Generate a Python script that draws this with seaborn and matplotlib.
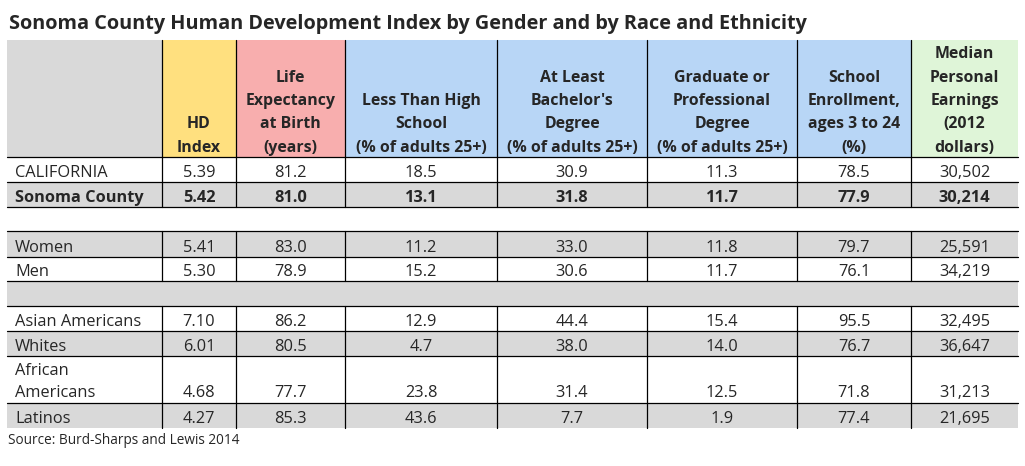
import matplotlib
matplotlib.use("Agg")
import matplotlib.pyplot as plt
import seaborn as sns
from matplotlib.patches import Rectangle

# data
title = "Sonoma County Human Development Index by Gender and by Race and Ethnicity"
source = "Source: Burd-Sharps and Lewis 2014"

headers = ["", "HD\nIndex", "Life\nExpectancy\nat Birth\n(years)",
           "Less Than High\nSchool\n(% of adults 25+)",
           "At Least\nBachelor's\nDegree\n(% of adults 25+)",
           "Graduate or\nProfessional\nDegree\n(% of adults 25+)",
           "School\nEnrollment,\nages 3 to 24\n(%)",
           "Median\nPersonal\nEarnings\n(2012\ndollars)"]

row_labels = ["CALIFORNIA", "Sonoma County", "Women", "Men",
              "Asian Americans", "Whites", "African\nAmericans", "Latinos"]
hd_index = [5.39, 5.42, 5.41, 5.30, 7.10, 6.01, 4.68, 4.27]
life_exp = [81.2, 81.0, 83.0, 78.9, 86.2, 80.5, 77.7, 85.3]
less_hs = [18.5, 13.1, 11.2, 15.2, 12.9, 4.7, 23.8, 43.6]
bachelor = [30.9, 31.8, 33.0, 30.6, 44.4, 38.0, 31.4, 7.7]
graduate = [11.3, 11.7, 11.8, 11.7, 15.4, 14.0, 12.5, 1.9]
enrollment = [78.5, 77.9, 79.7, 76.1, 95.5, 76.7, 71.8, 77.4]
earnings = [30502, 30214, 25591, 34219, 32495, 36647, 31213, 21695]

# layout (pixels)
col_edges = [7, 162, 236, 345, 497, 647, 797, 911, 1018]
header_top, header_bot = 40, 157
row_tops = [157, 182, 231, 257, 306, 331, 356, 403]
row_bots = [182, 207, 257, 281, 331, 356, 403, 428]
row_gray = [False, True, True, False, False, True, False, True]
row_bold = [False, True, False, False, False, False, False, False]
gaps = [(207, 231, "white"), (281, 306, "#d9d9d9")]

head_colors = ["#d9d9d9", "#ffe07f", "#f8aeae", "#b8d6f6", "#b8d6f6",
               "#b8d6f6", "#b8d6f6", "#dff5d8"]
gray = "#d9d9d9"

sns.set_theme(style="white")
plt.rcParams["font.family"] = ["Open Sans", "DejaVu Sans"]

fig = plt.figure(figsize=(10.25, 4.66), dpi=100)
ax = fig.add_axes([0, 0, 1, 1])
ax.set_xlim(0, 1025)
ax.set_ylim(466, 0)
ax.axis("off")

ax.text(9, 29, title, fontsize=14.35, fontweight="bold", ha="left",
        va="baseline")

# header cells
for j, h in enumerate(headers):
    x0, x1 = col_edges[j], col_edges[j + 1]
    ax.add_patch(Rectangle((x0, header_top), x1 - x0, header_bot - header_top,
                           facecolor=head_colors[j], edgecolor="none"))
    lines = h.split("\n")[::-1] if h else []
    for k, ln in enumerate(lines):
        ax.text((x0 + x1) / 2, 152 - 23.5 * k, ln, fontsize=11.4,
                fontweight="bold", ha="center", va="baseline")

# body
columns = [hd_index, life_exp, less_hs, bachelor, graduate, enrollment, earnings]
fmts = ["{:.2f}", "{:.1f}", "{:.1f}", "{:.1f}", "{:.1f}", "{:.1f}", "{:,.0f}"]
for i, lab in enumerate(row_labels):
    top, bot = row_tops[i], row_bots[i]
    if row_gray[i]:
        ax.add_patch(Rectangle((col_edges[0], top), col_edges[-1] - col_edges[0],
                               bot - top, facecolor=gray, edgecolor="none"))
    w = "bold" if row_bold[i] else "normal"
    base = bot - 5 if bot - top < 30 else bot - 6
    for k, ln in enumerate(lab.split("\n")[::-1]):
        ax.text(15, base - 22 * k, ln, fontsize=11.8, fontweight=w,
                ha="left", va="baseline")
    for j, col in enumerate(columns):
        xc = (col_edges[j + 1] + col_edges[j + 2]) / 2
        ax.text(xc, base, fmts[j].format(col[i]), fontsize=11.8, fontweight=w,
                ha="center", va="baseline")

for y0, y1, c in gaps:
    ax.add_patch(Rectangle((col_edges[0], y0), col_edges[-1] - col_edges[0],
                           y1 - y0, facecolor=c, edgecolor="none"))

# grid lines
lw = 0.9
for y in [157, 182, 207, 231, 257, 281, 306, 331, 356, 403]:
    ax.plot([col_edges[0], col_edges[-1]], [y, y], color="black", lw=lw)
for x in col_edges[1:-1]:
    for y0, y1 in [(header_top, 207), (231, 281), (306, 428)]:
        ax.plot([x, x], [y0, y1], color="black", lw=lw)

ax.text(8, 444, source, fontsize=9.8, ha="left", va="baseline")

fig.savefig("out.png", dpi=100)
